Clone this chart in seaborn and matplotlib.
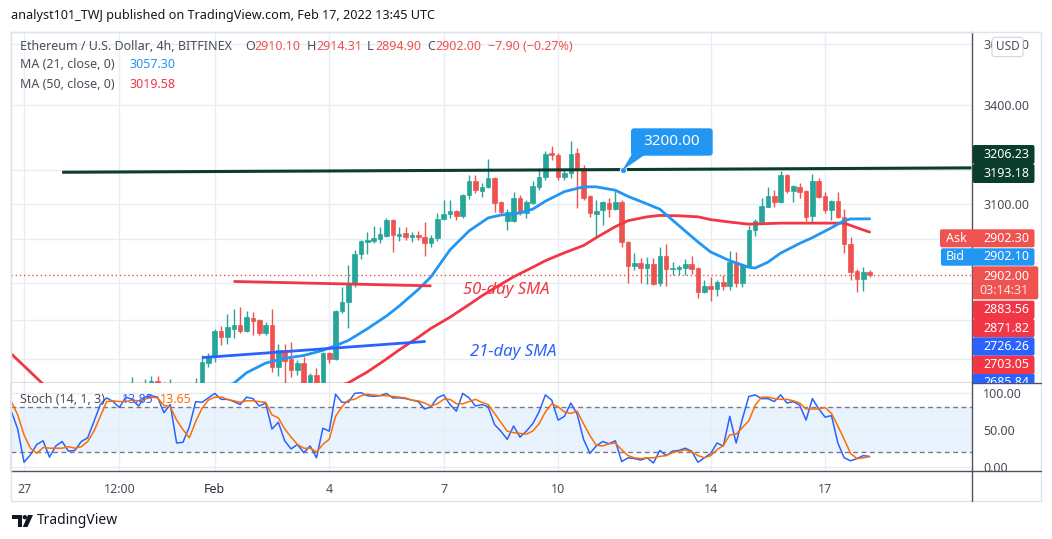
import numpy as np
import pandas as pd
import matplotlib
matplotlib.use("Agg")
import matplotlib.pyplot as plt
import seaborn as sns
from matplotlib.patches import Rectangle, FancyBboxPatch, Polygon, Ellipse
from matplotlib.lines import Line2D
from matplotlib.transforms import Bbox
from matplotlib.ticker import NullLocator, NullFormatter

# ---------------------------------------------------------------- DATA
axis_origin = pd.Timestamp("2022-01-27 00:00")     # first date label ("27")
first_candle = pd.Timestamp("2022-01-29 20:00")
first_stoch = pd.Timestamp("2022-01-26 16:00")

opens = [2605, 2618, 2610, 2618, 2628, 2620, 2610, 2618, 2600, 2595,
         2612, 2620, 2672, 2687, 2753, 2738, 2758, 2769, 2753, 2787,
         2782, 2748, 2769, 2662, 2705, 2682, 2655, 2672, 2620, 2643,
         2618, 2697, 2682, 2805, 2829, 2877, 2958, 2992, 2995, 3000,
         3008, 3054, 3008, 3017, 3007, 3011, 3006, 2989, 3003, 3057,
         3071, 3080, 3066, 3126, 3167, 3138, 3150, 3176, 3106, 3051,
         3051, 3118, 3074, 3103, 3150, 3179, 3251, 3245, 3179, 3191,
         3251, 3206, 3123, 3071, 3083, 3103, 3085, 3106, 2992, 2926,
         2934, 2920, 2931, 2879, 2953, 2917, 2917, 2920, 2931, 2920,
         2855, 2871, 2863, 2882, 2871, 2937, 2879, 2926, 3026, 3048,
         3091, 3123, 3106, 3185, 3138, 3150, 3138, 3065, 3167, 3123,
         3083, 3109, 3062, 2986, 2912, 2890, 2910.10]
highs = [2638, 2621, 2633, 2640, 2640, 2625, 2633, 2620, 2610, 2618,
         2635, 2692, 2697, 2758, 2766, 2797, 2810, 2815, 2805, 2802,
         2784, 2776, 2810, 2720, 2720, 2725, 2680, 2687, 2647, 2660,
         2700, 2700, 2807, 2868, 2928, 2970, 2997, 3020, 3037, 3034,
         3060, 3056, 3034, 3034, 3020, 3022, 3048, 3011, 3074, 3112,
         3112, 3083, 3129, 3185, 3185, 3161, 3233, 3179, 3108, 3085,
         3135, 3126, 3112, 3167, 3200, 3257, 3272, 3251, 3200, 3288,
         3266, 3215, 3126, 3112, 3110, 3118, 3138, 3112, 2995, 2961,
         2948, 2950, 2948, 2978, 2986, 2937, 2928, 2945, 2953, 2922,
         2888, 2896, 2888, 2901, 2967, 2964, 2930, 3037, 3057, 3118,
         3150, 3141, 3197, 3188, 3155, 3161, 3140, 3188, 3176, 3135,
         3111, 3135, 3085, 3006, 2917, 2923, 2914.31]
lows = [2595, 2598, 2598, 2610, 2612, 2600, 2602, 2590, 2580, 2585,
        2605, 2615, 2662, 2675, 2718, 2720, 2735, 2748, 2750, 2743,
        2743, 2743, 2650, 2640, 2620, 2638, 2643, 2600, 2605, 2600,
        2610, 2672, 2679, 2800, 2761, 2869, 2945, 2958, 2989, 2989,
        3006, 2964, 2995, 2997, 2992, 2997, 2953, 2978, 2995, 3054,
        3060, 3054, 3060, 3115, 3132, 3120, 3147, 3077, 3068, 3026,
        3048, 3068, 3060, 3100, 3141, 3170, 3230, 3170, 3170, 3176,
        3088, 3112, 3062, 3005, 3040, 3062, 3083, 2978, 2879, 2915,
        2879, 2877, 2874, 2871, 2871, 2901, 2901, 2901, 2904, 2839,
        2852, 2831, 2845, 2861, 2861, 2869, 2869, 2923, 3008, 3045,
        3091, 3091, 3103, 3132, 3106, 3118, 3051, 3045, 3118, 3074,
        3054, 3060, 2961, 2888, 2855, 2858, 2894.90]
closes = [2618, 2610, 2620, 2628, 2620, 2610, 2618, 2600, 2595, 2612,
          2620, 2675, 2687, 2753, 2738, 2763, 2769, 2753, 2790, 2779,
          2748, 2769, 2662, 2705, 2677, 2655, 2672, 2615, 2643, 2618,
          2697, 2682, 2805, 2829, 2877, 2958, 2995, 2998, 3003, 3014,
          3054, 3011, 3014, 3006, 3011, 3006, 2989, 3003, 3057, 3071,
          3080, 3066, 3126, 3167, 3141, 3150, 3176, 3103, 3077, 3077,
          3118, 3074, 3106, 3153, 3179, 3248, 3245, 3179, 3191, 3248,
          3206, 3118, 3074, 3080, 3106, 3085, 3106, 2992, 2926, 2934,
          2920, 2931, 2877, 2953, 2917, 2920, 2923, 2931, 2917, 2855,
          2871, 2863, 2882, 2871, 2937, 2879, 2928, 3026, 3051, 3094,
          3123, 3106, 3185, 3138, 3153, 3135, 3062, 3167, 3120, 3083,
          3109, 3062, 2986, 2909, 2890, 2910, 2902.00]

# moving averages (bar number counted from axis_origin)
ma21_bar = [20, 28, 33, 35, 38, 41, 44, 47, 49, 51, 54, 57, 59, 62, 64, 67, 70,
            73, 75, 78, 80, 82, 85, 88, 90, 93, 95, 98, 100, 103, 106, 108,
            111, 114, 115, 117, 119, 122, 124, 127, 129, 130, 133]
ma21 = [2560, 2598, 2622, 2648, 2672, 2684, 2691, 2704, 2716, 2729, 2759,
        2792, 2818, 2862, 2896, 2970, 3023, 3060, 3068, 3074, 3085, 3108,
        3136, 3150, 3150, 3140, 3122, 3100, 3085, 3038, 2992, 2964, 2940,
        2922, 2920, 2936, 2961, 2988, 3004, 3032, 3052, 3057, 3057.30]
ma50_bar = [-2, 3, 10, 25, 40, 48, 51, 54, 57, 59, 62, 64, 67, 70, 72, 75, 77,
            80, 82, 85, 88, 90, 93, 95, 98, 100, 103, 106, 108, 111, 114, 119,
            124, 129, 131, 133]
ma50 = [2695, 2620, 2575, 2560, 2585, 2610, 2623, 2650, 2682, 2705, 2737,
        2760, 2789, 2822, 2845, 2876, 2896, 2922, 2940, 2962, 2982, 3004,
        3035, 3052, 3063, 3067, 3066, 3063, 3055, 3048, 3042, 3045, 3045,
        3045, 3032, 3019.58]

stoch_k = [75, 51, 6, 16, 30, 35, 13, 28, 34, 21,
           22, 34, 39, 61, 84, 93, 88, 80, 94, 91,
           82, 94, 96, 94, 73, 84, 32, 33, 54, 88,
           87, 93, 99, 91, 91, 88, 84, 94, 92, 82,
           86, 51, 60, 35, 24, 30, 19, 28, 12, 52,
           48, 98, 87, 87, 99, 100, 96, 95, 96, 99,
           93, 93, 92, 90, 88, 78, 81, 93, 97, 84,
           75, 99, 93, 82, 84, 81, 57, 48, 37, 55,
           40, 48, 58, 74, 97, 90, 63, 68, 86, 71,
           37, 18, 28, 34, 31, 35, 7, 12, 11, 9,
           12, 5, 22, 15, 21, 22, 25, 21, 6, 12,
           18, 32, 28, 68, 32, 65, 95, 97, 92, 92,
           88, 97, 86, 88, 83, 63, 92, 78, 67, 69,
           32, 12, 8, 11, 15, 13.85]
stoch_d = [88, 70, 43, 25, 18, 26, 25, 25, 25, 27,
           25, 27, 34, 48, 68, 88, 89, 88, 88, 90,
           89, 91, 94, 93, 83, 81, 63, 50, 39, 61,
           79, 90, 94, 94, 91, 89, 87, 89, 89, 88,
           87, 70, 66, 51, 40, 30, 25, 25, 20, 30,
           37, 68, 81, 90, 91, 96, 98, 97, 96, 96,
           95, 94, 93, 90, 89, 86, 82, 85, 91, 91,
           85, 85, 88, 91, 87, 84, 72, 60, 48, 46,
           45, 44, 48, 58, 74, 85, 81, 74, 72, 75,
           58, 42, 29, 28, 31, 32, 23, 15, 12, 11,
           12, 12, 14, 15, 19, 21, 23, 20, 15, 12,
           15, 23, 29, 43, 44, 53, 62, 83, 94, 94,
           92, 91, 91, 89, 86, 78, 78, 78, 80, 72,
           55, 37, 18, 11, 12, 13.65]

# drawings (bar number, price)
resistance_bar = [6, 149]
resistance_px = [3193.18, 3206.23]
red_trend_bar = [33.1, 63.9]
red_trend_px = [2883.56, 2871.82]
blue_trend_bar = [28.2, 63.0]
blue_trend_px = [2685.84, 2726.26]
callout_bar, callout_price = 94.2, 3200.00
last_price = 2902.00

x_tick_times = ["2022-01-27 00:00", "2022-01-29 12:00", "2022-02-01", "2022-02-04",
                "2022-02-07", "2022-02-10", "2022-02-14", "2022-02-17"]
x_tick_labels = ["27", "12:00", "Feb", "4", "7", "10", "14", "17"]
price_ticks = [3600, 3400, 3100]
price_tick_labels = ["3600.00", "3400.00", "3100.00"]
price_grid = [3600, 3400, 3200, 3100, 3000, 2879, 2781, 2682]
stoch_ticks = [0, 50, 100]
stoch_tick_labels = ["0.00", "50.00", "100.00"]

# ---------------------------------------------------------------- STYLE
sns.set_theme(style="white")
plt.rcParams["font.family"] = ["Noto Sans", "DejaVu Sans"]

GREEN, RED = "#26a69a", "#ef5350"
GRID = "#e6edf3"
TXT = "#131722"
GRAYTXT = "#4a4e59"
SEP = "#50535e"

W, H = 1052, 539
fig = plt.figure(figsize=(W / 100, H / 100), dpi=100, facecolor="white")


def fx(x):
    return x / W


def fy(y):
    return 1 - y / H


def ftext(x, y, s, **kw):
    kw.setdefault("va", "center")
    kw.setdefault("ha", "left")
    return fig.text(fx(x), fy(y), s, **kw)


def fbox(x0, y0, x1, y1, color, r=2.0, **kw):
    p = FancyBboxPatch((fx(x0), fy(y1)), (x1 - x0) / W, (y1 - y0) / H,
                       boxstyle=f"round,pad=0,rounding_size={r / W}",
                       mutation_aspect=W / H, transform=fig.transFigure,
                       facecolor=color, edgecolor=kw.pop("ec", "none"),
                       lw=kw.pop("lw", 0), zorder=kw.pop("zorder", 5), **kw)
    fig.add_artist(p)
    return p


def fline(xs, ys, color, lw=1.0, zorder=4, **kw):
    fig.add_artist(Line2D([fx(v) for v in xs], [fy(v) for v in ys],
                          transform=fig.transFigure, color=color, lw=lw,
                          zorder=zorder, **kw))


def to_bar(ts):
    return (pd.to_datetime(ts) - axis_origin) / pd.Timedelta(hours=4)


candle_bar = np.array([to_bar(t) for t in
                       pd.date_range(first_candle, periods=len(opens), freq="4h")])
stoch_bar = np.array([to_bar(t) for t in
                      pd.date_range(first_stoch, periods=len(stoch_k), freq="4h")])
tick_bar = [to_bar(t) for t in x_tick_times]

X0, X1 = -2.05, 149.1

# ---------------------------------------------------------------- MAIN PANEL
ax = fig.add_axes([fx(11), fy(383.3), (972 - 11) / W, (383.3 - 32) / H])
ax.set_facecolor("white")
ax.set_yscale("log")
ax.set_ylim(2622, 3640)
ax.set_xlim(X0, X1)

for p in price_grid:
    ax.axhline(p, color=GRID, lw=1, zorder=0.5)
for b in tick_bar:
    ax.axvline(b, color=GRID, lw=1, zorder=0.5)

o = np.array(opens); h = np.array(highs); l = np.array(lows); c = np.array(closes)
cols = [GREEN if cc >= oo else RED for oo, cc in zip(o, c)]
ax.vlines(candle_bar, l, h, colors=cols, lw=1.0, zorder=2)
body_lo = np.minimum(o, c)
body_h = np.maximum(np.abs(c - o), 0.6)
ax.bar(candle_bar, body_h, bottom=body_lo, width=0.72, color=cols,
       edgecolor=cols, lw=0.5, zorder=3)

ma_df21 = pd.DataFrame({"bar": ma21_bar, "price": ma21})
ma_df50 = pd.DataFrame({"bar": ma50_bar, "price": ma50})
sns.lineplot(data=ma_df50, x="bar", y="price", ax=ax, color="#f23645", lw=2.0,
             estimator=None, sort=False, zorder=4)
sns.lineplot(data=ma_df21, x="bar", y="price", ax=ax, color="#2196f3", lw=2.0,
             estimator=None, sort=False, zorder=4)

ax.plot(resistance_bar, resistance_px, color="#0b3d2e", lw=2.2, zorder=5,
        solid_capstyle="butt")
ax.plot(red_trend_bar, red_trend_px, color="#f23645", lw=2.0, zorder=5)
ax.plot(blue_trend_bar, blue_trend_px, color="#2962ff", lw=2.0, zorder=5)
ax.axhline(last_price, color=RED, lw=1, ls=(0, (1, 2)), zorder=1)

ax.text(69.1, 2861, "50-day SMA", color="#f23645", fontsize=12, style="italic",
        va="center", ha="left", zorder=6)
ax.text(70.2, 2700, "21-day SMA", color="#2962ff", fontsize=12, style="italic",
        va="center", ha="left", zorder=6)
ax.plot([callout_bar], [callout_price], "o", ms=4.5, color="#2196f3",
        mec="white", mew=0.8, zorder=7)

ax.yaxis.tick_right()
ax.set_yticks(price_ticks)
ax.set_yticklabels(price_tick_labels)
ax.yaxis.set_minor_locator(NullLocator())
ax.yaxis.set_minor_formatter(NullFormatter())
ax.tick_params(axis="y", length=0, pad=8, labelsize=9, labelcolor=GRAYTXT)
ax.set_xticks(tick_bar)
ax.tick_params(axis="x", length=0, labelbottom=False)
ax.set_xlabel(""); ax.set_ylabel("")
for s in ["left", "top"]:
    ax.spines[s].set_color("#e0e3eb"); ax.spines[s].set_linewidth(1)
for s in ["right", "bottom"]:
    ax.spines[s].set_color(SEP); ax.spines[s].set_linewidth(1)

# ---------------------------------------------------------------- STOCH PANEL
ax2 = fig.add_axes([fx(11), fy(470.7), (972 - 11) / W, (470.7 - 383.3) / H])
ax2.set_facecolor("white")
ax2.set_xlim(X0, X1)
ax2.set_ylim(-5.4, 112.7)
for b in tick_bar:
    ax2.axvline(b, color=GRID, lw=1, zorder=0.5)
for v in stoch_ticks:
    ax2.axhline(v, color=GRID, lw=1, zorder=0.5)
ax2.axhspan(20, 80, color="#e8f3fd", zorder=0.3, lw=0)
for v in (20, 80):
    ax2.axhline(v, color="#787b86", lw=1, ls=(0, (3.5, 2.5)), zorder=1)

st = pd.DataFrame({"bar": stoch_bar, "k": stoch_k, "d": stoch_d})
sns.lineplot(data=st, x="bar", y="k", ax=ax2, color="#2962ff", lw=1.1,
             estimator=None, sort=False, zorder=3)
sns.lineplot(data=st, x="bar", y="d", ax=ax2, color="#ff6d00", lw=1.1,
             estimator=None, sort=False, zorder=3)

ax2.yaxis.tick_right()
ax2.set_yticks(stoch_ticks)
ax2.set_yticklabels(stoch_tick_labels)
ax2.tick_params(axis="y", length=0, pad=8, labelsize=9, labelcolor=GRAYTXT)
ax2.set_xticks(tick_bar)
ax2.set_xticklabels(x_tick_labels)
ax2.tick_params(axis="x", length=0, pad=9, labelsize=9, labelcolor=GRAYTXT)
lbls = ax2.get_xticklabels()
lbls[2].set_fontweight("bold"); lbls[2].set_color("#2a2e39")
ax2.set_xlabel(""); ax2.set_ylabel("")
ax2.spines["left"].set_color("#e0e3eb")
ax2.spines["top"].set_visible(False)
for s in ["right", "bottom"]:
    ax2.spines[s].set_color(SEP); ax2.spines[s].set_linewidth(1)

ax2.text(0.0093, 0.81, "Stoch (14, 1, 3)", transform=ax2.transAxes, fontsize=9,
         color=GRAYTXT, va="center", ha="left", zorder=6)
ax2.text(0.1155, 0.81, "13.85", transform=ax2.transAxes, fontsize=9,
         color="#2962ff", va="center", ha="left", zorder=6)
ax2.text(0.155, 0.81, "13.65", transform=ax2.transAxes, fontsize=9,
         color="#ff6d00", va="center", ha="left", zorder=6)

# ---------------------------------------------------------------- FRAME
fig.add_artist(Rectangle((fx(11), fy(501)), (1041 - 11) / W, (501 - 32) / H,
                         transform=fig.transFigure, fill=False,
                         ec="#e0e3eb", lw=1, zorder=3))
fline([972, 1041], [383.3, 383.3], SEP)
fline([972, 1041], [470.7, 470.7], SEP)
fline([972, 972], [470.7, 501], SEP)

# ---------------------------------------------------------------- TEXT
ftext(11, 15, "analyst101_TWJ published on TradingView.com, Feb 17, 2022 13:45 UTC",
      fontsize=9.1, color=TXT)
ftext(20, 46, "Ethereum / U.S. Dollar, 4h, BITFINEX", fontsize=9, color=GRAYTXT)
for x, s, col in [(245, "O", GRAYTXT), (254, "2910.10", RED), (307, "H", GRAYTXT),
                  (316, "2914.31", RED), (367, "L", GRAYTXT), (375, "2894.90", RED),
                  (427, "C", GRAYTXT), (435, "2902.00", RED),
                  (488, "\u22127.90 (\u22120.27%)", RED)]:
    ftext(x, 46, s, fontsize=9, color=col)
ftext(20, 65, "MA (21, close, 0)", fontsize=9, color=GRAYTXT)
ftext(129, 65, "3057.30", fontsize=9, color="#2196f3")
ftext(20, 84, "MA (50, close, 0)", fontsize=9, color=GRAYTXT)
ftext(129, 84, "3019.58", fontsize=9, color="#f23645")

# callout 3200.00
fbox(631, 128.3, 712.7, 155.7, "#2196f3", r=3, zorder=6)
fig.add_artist(Polygon([(fx(632), fy(154)), (fx(646), fy(154)), (fx(622), fy(170.5))],
                       closed=True, transform=fig.transFigure, fc="#2196f3",
                       ec="none", zorder=6))
ftext(672, 142, "3200.00", fontsize=11, color="white", weight="bold",
      ha="center", zorder=7)

# USD badge (covers the top price label, as in the original)
fbox(992, 37.3, 1023, 56.7, "white", r=3, ec="#d1d4dc", lw=0.8, zorder=6)
ftext(1007.5, 47, "USD", fontsize=8.5, color=GRAYTXT, ha="center", zorder=7)

# price scale tags
DARK = "#0b3d2e"
for y0, y1, col, s in [(145, 164, DARK, "3206.23"), (164, 183, DARK, "3193.18"),
                       (300.7, 319, "#f23645", "2883.56"),
                       (319, 337.3, "#f23645", "2871.82"),
                       (337.3, 355.7, "#2962ff", "2726.26"),
                       (355.7, 374, "#f23645", "2703.05")]:
    fbox(972.7, y0, 1034.5, y1, col, r=2)
    ftext(1029, (y0 + y1) / 2, s, fontsize=9, color="white", ha="right", zorder=7)

fbox(972.7, 374, 1034.5, 383.0, "#2962ff", r=0.5)
t_cut = ftext(1029, 382.5, "2685.84", fontsize=9, color="white", ha="right", zorder=7)
t_cut.set_clip_box(Bbox.from_extents(960, H - 383.0, 1045, H - 370))
t_cut.set_clip_on(True)

fbox(940, 229.3, 1034.5, 247.3, "#ef5350", r=2)
ftext(946, 238.3, "Ask", fontsize=9, color="white", zorder=7)
ftext(1029, 238.3, "2902.30", fontsize=9, color="white", ha="right", zorder=7)
fbox(941, 248.3, 1034.5, 265.7, "#2196f3", r=2)
ftext(946, 257, "Bid", fontsize=9, color="white", zorder=7)
ftext(1029, 257, "2902.10", fontsize=9, color="white", ha="right", zorder=7)
fbox(972.7, 266.3, 1038.3, 299.3, "#ef5350", r=2)
ftext(1029, 276, "2902.00", fontsize=9, color="white", ha="right", zorder=7)
ftext(1029, 291, "03:14:31", fontsize=9, color="#fde3e3", ha="right", zorder=7)

# footer logo
LOGO = "#131722"
fig.add_artist(Polygon([(fx(12), fy(515)), (fx(21.5), fy(515)), (fx(21.5), fy(527)),
                        (fx(17.5), fy(527)), (fx(17.5), fy(519)), (fx(12), fy(519))],
                       transform=fig.transFigure, fc=LOGO, ec="none", zorder=6))
fig.add_artist(Ellipse((fx(24.8), fy(517.2)), 4.4 / W, 4.4 / H,
                       transform=fig.transFigure, fc=LOGO, ec="none", zorder=6))
fig.add_artist(Polygon([(fx(28), fy(515)), (fx(33), fy(515)), (fx(27.5), fy(527)),
                        (fx(22.8), fy(527))],
                       transform=fig.transFigure, fc=LOGO, ec="none", zorder=6))
ftext(36.5, 520.5, "TradingView", fontsize=10, color=LOGO)

fig.savefig("out.png", dpi=100, facecolor="white")
